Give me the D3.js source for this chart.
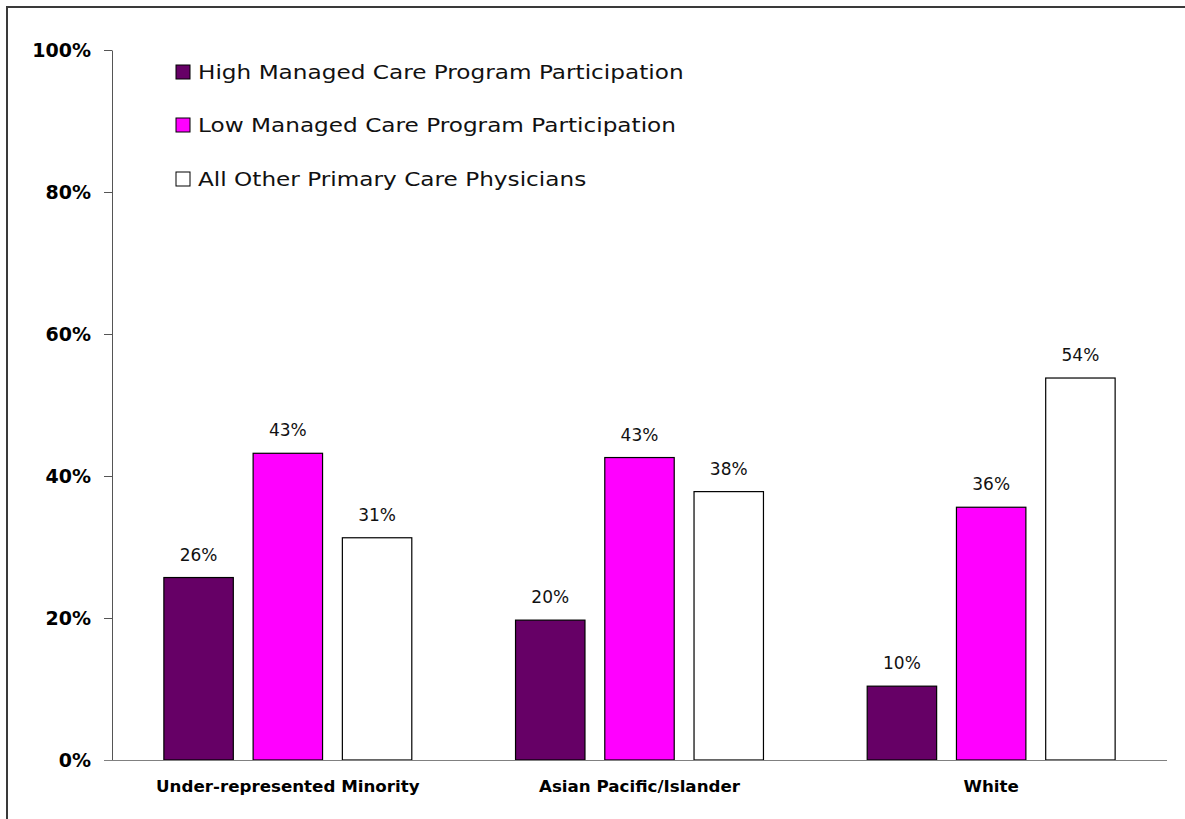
<!DOCTYPE html>
<html>
<head>
<meta charset="utf-8">
<script src="https://cdn.jsdelivr.net/npm/d3@7"></script>
<style>
  body { margin: 0; background: #fff; }
  svg { display: block; }
  text { font-family: "DejaVu Sans", sans-serif; fill: #000; }
</style>
</head>
<body>
<div id="chart"></div>
<script>
'use strict';

// data
var categories = ["Under-represented Minority", "Asian Pacific/Islander", "White"];
var seriesNames = [
  "High Managed Care Program Participation",
  "Low Managed Care Program Participation",
  "All Other Primary Care Physicians"
];
var seriesColors = ["#660066", "#ff00ff", "#ffffff"];
var highValues = [25.7, 19.7, 10.4];
var lowValues = [43.2, 42.6, 35.6];
var otherValues = [31.3, 37.8, 53.8];
var valueLabels = [["26%", "20%", "10%"], ["43%", "43%", "36%"], ["31%", "38%", "54%"]];
var yTicks = [0, 20, 40, 60, 80, 100];

var series = [highValues, lowValues, otherValues];

// constants
var width = 1185,
    height = 819,
    plotLeft = 112,
    plotRight = 1167,
    plotTop = 50,
    plotBottom = 760;

var svg = d3.select("#chart")
  .append("svg")
  .attr("width", width)
  .attr("height", height);

// frame (only top and left edges are in view)
svg.append("path")
  .attr("d", "M7," + height + "V7H" + width)
  .attr("fill", "none")
  .attr("stroke", "#3a3a3a")
  .attr("stroke-width", 2);

var y = d3.scaleLinear().domain([0, 100]).range([plotBottom, plotTop]);

var x0 = d3.scaleBand()
  .domain(categories)
  .range([plotLeft, plotRight])
  .paddingInner(0.295)
  .paddingOuter(0.1475);

var x1 = d3.scaleBand()
  .domain(d3.range(series.length))
  .range([0, x0.bandwidth()])
  .paddingInner(0.222)
  .paddingOuter(0);

function cells(d, i) {
  return series.map(function (s, k) { return { k: k, v: s[i], label: valueLabels[k][i] }; });
}

// Bars
// ====
var groups = svg.selectAll("g.group")
  .data(categories)
  .enter().append("g")
  .attr("class", "group")
  .attr("transform", function (d) { return "translate(" + x0(d) + ",0)"; });

groups.selectAll("rect")
  .data(cells)
  .enter().append("rect")
  .attr("x", function (d) { return x1(d.k); })
  .attr("y", function (d) { return y(d.v); })
  .attr("width", x1.bandwidth())
  .attr("height", function (d) { return y(0) - y(d.v); })
  .attr("fill", function (d) { return seriesColors[d.k]; })
  .attr("stroke", "#000")
  .attr("stroke-width", 1.2);

groups.selectAll("text.val")
  .data(cells)
  .enter().append("text")
  .attr("class", "val")
  .attr("x", function (d) { return x1(d.k) + x1.bandwidth() / 2; })
  .attr("y", function (d) { return y(d.v) - 17; })
  .attr("text-anchor", "middle")
  .style("font-size", "17px")
  .style("fill", "#111")
  .text(function (d) { return d.label; });

// Axes
// ====
var yAxis = svg.append("g")
  .attr("transform", "translate(" + plotLeft + ",0)")
  .call(d3.axisLeft(y).tickValues(yTicks).tickSize(8).tickSizeOuter(0).tickPadding(13)
    .tickFormat(function (d) { return d + "%"; }));
yAxis.select(".domain").attr("stroke", "#555");
yAxis.selectAll(".tick line").attr("stroke", "#555");
yAxis.selectAll(".tick text")
  .style("font-size", "19px")
  .style("font-weight", "bold")
  .attr("dy", "0.35em");

var xAxis = svg.append("g")
  .attr("transform", "translate(0," + plotBottom + ")")
  .call(d3.axisBottom(x0).tickSize(0).tickSizeOuter(0).tickPadding(20));
xAxis.select(".domain").attr("stroke", "#808080").attr("d", "M" + (plotLeft - 8) + ",0.5H" + plotRight);
xAxis.selectAll(".tick text")
  .style("font-size", "16.7px")
  .style("font-weight", "bold")
  .attr("dy", "0.71em");

// Legend
// ======
var legend = svg.selectAll("g.legend")
  .data(seriesNames)
  .enter().append("g")
  .attr("class", "legend")
  .attr("transform", function (d, i) { return "translate(176," + [72, 125, 179][i] + ")"; });

legend.append("rect")
  .attr("x", 0)
  .attr("y", -7)
  .attr("width", 14)
  .attr("height", 14)
  .attr("fill", function (d, i) { return seriesColors[i]; })
  .attr("stroke", "#000")
  .attr("stroke-width", 1);

// the original face is much wider than DejaVu, so stretch it horizontally
legend.append("text")
  .attr("transform", "translate(22,0) scale(1.22,1)")
  .attr("dy", "0.35em")
  .style("font-size", "19px")
  .style("fill", "#111")
  .text(function (d) { return d; });
</script>
</body>
</html>
